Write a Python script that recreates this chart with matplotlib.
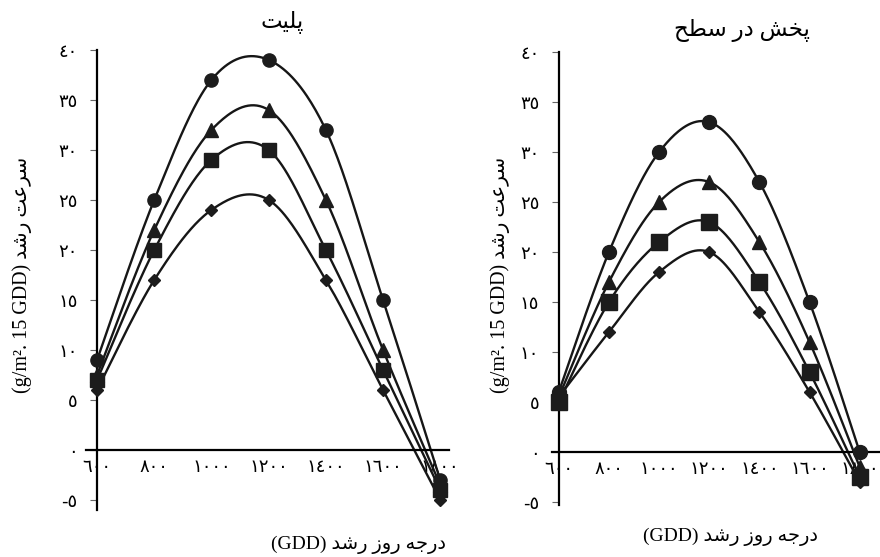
import numpy as np
import matplotlib.pyplot as plt

# growth degree days (x) and growth rate for the two panels
gdd = [600, 800, 1000, 1200, 1400, 1600, 1800]

plate_circle = [9, 25, 37, 39, 32, 15, -3]
plate_triangle = [7.5, 22, 32, 34, 25, 10, -3.5]
plate_square = [7, 20, 29, 30, 20, 8, -4]
plate_diamond = [6, 17, 24, 25, 17, 6, -5]

spread_circle = [6, 20, 30, 33, 27, 15, 0]
spread_triangle = [5.5, 17, 25, 27, 21, 11, -1.5]
spread_square = [5, 15, 21, 23, 17, 8, -2.5]
spread_diamond = [5.5, 12, 18, 20, 14, 6, -3]

x_ticks = [600, 800, 1000, 1200, 1400, 1600, 1800]
y_ticks = [-5, 0, 5, 10, 15, 20, 25, 30, 35, 40]

title_left = 'پلیت'
title_right = 'پخش در سطح'
xlabel_fa = 'درجه روز رشد'
ylabel_fa = 'سرعت رشد'

# --- minimal Persian shaping (matplotlib has no bidi/shaping) ---
FORMS = {
    'پ': ('\ufb56', '\ufb57', '\ufb58', '\ufb59'),
    'ت': ('\ufe95', '\ufe96', '\ufe97', '\ufe98'),
    'ج': ('\ufe9d', '\ufe9e', '\ufe9f', '\ufea0'),
    'ح': ('\ufea1', '\ufea2', '\ufea3', '\ufea4'),
    'خ': ('\ufea5', '\ufea6', '\ufea7', '\ufea8'),
    'د': ('\ufea9', '\ufeaa', '\ufea9', '\ufeaa'),
    'ر': ('\ufead', '\ufeae', '\ufead', '\ufeae'),
    'ز': ('\ufeaf', '\ufeb0', '\ufeaf', '\ufeb0'),
    'س': ('\ufeb1', '\ufeb2', '\ufeb3', '\ufeb4'),
    'ش': ('\ufeb5', '\ufeb6', '\ufeb7', '\ufeb8'),
    'ط': ('\ufec1', '\ufec2', '\ufec3', '\ufec4'),
    'ع': ('\ufec9', '\ufeca', '\ufecb', '\ufecc'),
    'ل': ('\ufedd', '\ufede', '\ufedf', '\ufee0'),
    'ه': ('\ufee9', '\ufeea', '\ufeeb', '\ufeec'),
    'و': ('\ufeed', '\ufeee', '\ufeed', '\ufeee'),
    'ی': ('\ufbfc', '\ufbfd', '\ufef3', '\ufef4'),
}
RIGHT_ONLY = set('درزو')


def shape(text):
    out = []
    for i, ch in enumerate(text):
        if ch not in FORMS:
            out.append(ch)
            continue
        prev = text[i - 1] if i > 0 else ''
        nxt = text[i + 1] if i + 1 < len(text) else ''
        jp = prev in FORMS and prev not in RIGHT_ONLY
        jn = ch not in RIGHT_ONLY and nxt in FORMS
        iso, fin, ini, med = FORMS[ch]
        out.append(med if (jp and jn) else fin if jp else ini if jn else iso)
    return ''.join(out)[::-1]


AR_DIGITS = str.maketrans('0123456789-', '٠١٢٣٤٥٦٧٨٩-')


def ar_num(v):
    return str(v).translate(AR_DIGITS)


def smooth(x, y, n=40):
    """Excel-like smoothed line (Catmull-Rom as cubic Bezier)."""
    x = np.asarray(x, float)
    y = np.asarray(y, float)
    xs, ys = [], []
    t = np.linspace(0, 1, n)
    for i in range(len(x) - 1):
        i0 = max(i - 1, 0)
        i3 = min(i + 2, len(x) - 1)
        p0 = np.array([x[i], y[i]])
        p3 = np.array([x[i + 1], y[i + 1]])
        c1 = p0 + (np.array([x[i + 1], y[i + 1]]) - np.array([x[i0], y[i0]])) / 6
        c2 = p3 - (np.array([x[i3], y[i3]]) - np.array([x[i], y[i]])) / 6
        b = ((1 - t) ** 3)[:, None] * p0 + (3 * (1 - t) ** 2 * t)[:, None] * c1 \
            + (3 * (1 - t) * t ** 2)[:, None] * c2 + (t ** 3)[:, None] * p3
        xs.extend(b[:, 0])
        ys.extend(b[:, 1])
    return xs, ys


fig = plt.figure(figsize=(8.8, 5.57), dpi=100)

ax1 = fig.add_axes([0.0973, 0.0844, 0.4127, 0.826])
ax2 = fig.add_axes([0.627, 0.0934, 0.3727, 0.813])

mk_color = '#1c1c1c'
panels = [
    (ax1, [plate_circle, plate_triangle, plate_square, plate_diamond], (560, 1830), (-6, 40),
     [9.5, 9.5, 9.5, 6.3]),
    (ax2, [spread_circle, spread_triangle, spread_square, spread_diamond], (572, 1880), (-5.3, 40),
     [10, 9.5, 11, 6.3]),
]
markers = ['o', '^', 's', 'D']

for ax, series, xl, yl, sizes in panels:
    for vals, m, ms in zip(series, markers, sizes):
        sx, sy = smooth(gdd, vals)
        ax.plot(sx, sy, color='#161616', lw=1.7, zorder=2, clip_on=False)
        ax.plot(gdd, vals, linestyle='none', marker=m, ms=ms, color=mk_color,
                markeredgecolor=mk_color, zorder=3, clip_on=False)
    ax.set_xlim(*xl)
    ax.set_ylim(*yl)
    for s in ['top', 'right']:
        ax.spines[s].set_visible(False)
    ax.spines['left'].set_position(('data', 600))
    ax.spines['bottom'].set_position(('data', 0))
    ax.spines['left'].set_linewidth(1.6)
    ax.spines['bottom'].set_linewidth(1.6)
    ax.set_xticks(x_ticks)
    ax.set_xticklabels([ar_num(v) for v in x_ticks], fontsize=13, family='DejaVu Sans')
    ax.set_yticks(y_ticks)
    ax.set_yticklabels([ar_num(v) for v in y_ticks], fontsize=13, family='DejaVu Sans')
    ax.tick_params(axis='x', length=0, pad=6)
    ax.tick_params(axis='y', direction='out', length=5, width=0.8, color='#666666', pad=9)
    ax.set_facecolor('none')

lab_font = ['Liberation Serif', 'DejaVu Sans']
ylab = '(g/m\u00b2. 15 GDD) ' + shape(ylabel_fa)
xlab = '(GDD) ' + shape(xlabel_fa)

fig.text(22 / 880, 1 - 275 / 557, ylab, rotation=90, ha='center', va='center',
         fontsize=14.5, family=lab_font)
fig.text(500 / 880, 1 - 275 / 557, ylab, rotation=90, ha='center', va='center',
         fontsize=14.5, family=lab_font)
fig.text(358 / 880, 1 - 545 / 557, xlab, ha='center', va='center', fontsize=14, family=lab_font)
fig.text(730 / 880, 1 - 537 / 557, xlab, ha='center', va='center', fontsize=14, family=lab_font)
fig.text(282 / 880, 1 - 22 / 557, shape(title_left), ha='center', va='center', fontsize=16.5,
         family=lab_font)
fig.text(742 / 880, 1 - 30 / 557, shape(title_right), ha='center', va='center', fontsize=16.5,
         family=lab_font)

fig.savefig('out.png', dpi=100)
